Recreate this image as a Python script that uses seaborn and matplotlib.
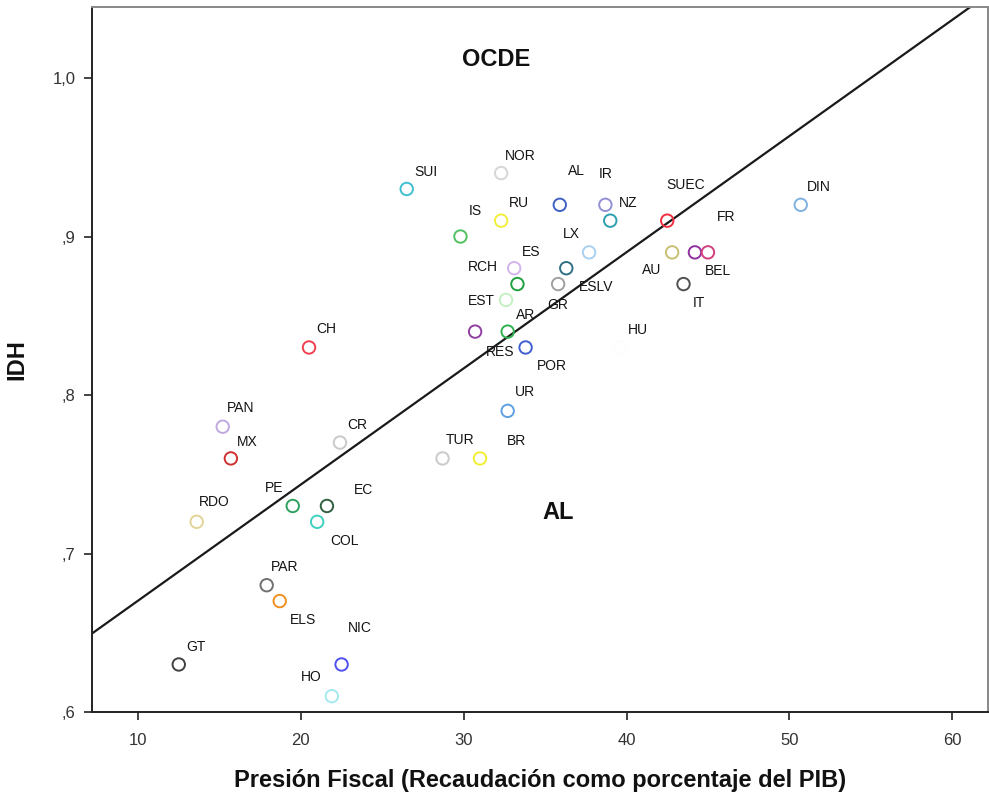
import matplotlib
matplotlib.use("Agg")
import matplotlib.pyplot as plt
import seaborn as sns
import pandas as pd

# Country codes
paises = ["SUI", "NOR", "AL", "IR", "RU", "NZ", "SUEC", "DIN", "IS", "LX",
          "AU", "BEL", "FR", "ES", "ESLV", "RCH", "GR", "IT", "EST", "RES",
          "AR", "POR", "UR", "TUR", "BR", "CH", "PAN", "MX", "CR", "RDO",
          "PE", "EC", "COL", "PAR", "ELS", "GT", "NIC", "HO", "HU"]

# Tax revenue as % of GDP
presion = [26.5, 32.3, 35.9, 38.7, 32.3, 39.0, 42.5, 50.7, 29.8, 37.7,
           42.8, 44.2, 45.0, 33.1, 36.3, 33.3, 35.8, 43.5, 32.6, 30.7,
           32.7, 33.8, 32.7, 28.7, 31.0, 20.5, 15.2, 15.7, 22.4, 13.6,
           19.5, 21.6, 21.0, 17.9, 18.7, 12.5, 22.5, 21.9, 39.6]

# Human development index
idh = [0.93, 0.94, 0.92, 0.92, 0.91, 0.91, 0.91, 0.92, 0.90, 0.89,
       0.89, 0.89, 0.89, 0.88, 0.88, 0.87, 0.87, 0.87, 0.86, 0.84,
       0.84, 0.83, 0.79, 0.76, 0.76, 0.83, 0.78, 0.76, 0.77, 0.72,
       0.73, 0.73, 0.72, 0.68, 0.67, 0.63, 0.63, 0.61, 0.83]

# One colour per country
colores = ["#3fbfd0", "#d6d6d6", "#4060c4", "#9490d4", "#f2ee3c", "#2c9fb0",
           "#f03040", "#80b0e0", "#50c060", "#aad0f0", "#c8c070", "#9030a0",
           "#d04080", "#d4b4ec", "#2f7084", "#20a040", "#a0a0a0", "#505050",
           "#c4f0c4", "#9040a0", "#30b050", "#4060d0", "#60a0e0", "#cacaca",
           "#f2ee30", "#f04050", "#c0a8e0", "#d03030", "#cacaca", "#e2d496",
           "#30a060", "#306040", "#40d0c0", "#707070", "#f09020", "#404040",
           "#5050f0", "#a4e8f0", "#fdfdfd"]

# Where each code sits relative to its marker (pixels, right / down)
desplaz = [(19, -17), (19, -17), (17, -34), (0, -31), (18, -18), (18, -18),
           (18, -36), (18, -18), (15, -26), (-18, -18), (-20, 18), (23, 19),
           (18, -35), (17, -16), (30, 19), (-35, -17), (0, 21), (15, 19),
           (-25, 1), (25, 20), (18, -17), (26, 19), (17, -19), (18, -18),
           (37, -17), (17, -18), (18, -19), (16, -16), (17, -18), (18, -20),
           (-19, -18), (37, -16), (27, 19), (18, -18), (23, 19), (17, -17),
           (18, -36), (-21, -19), (18, -17)]

x_ticks = [10, 20, 30, 40, 50, 60]
y_ticks = [0.6, 0.7, 0.8, 0.9, 1.0]
y_tick_labels = [",6", ",7", ",8", ",9", "1,0"]

df = pd.DataFrame({"pais": paises, "presion": presion, "idh": idh})

sns.set_style("white")
plt.rcParams["font.family"] = ["Liberation Sans", "DejaVu Sans"]

fig = plt.figure(figsize=(9.89, 7.96), dpi=100)
ax = fig.add_axes([0.0930, 0.1055, 0.906, 0.8857])
ax.set_xlim(7.17, 62.2)
ax.set_ylim(0.6, 1.0448)

# Least-squares fit across the full width
sns.regplot(data=df, x="presion", y="idh", scatter=False, ci=None,
            truncate=False, ax=ax, line_kws={"color": "#1a1a1a", "lw": 1.6})

sns.scatterplot(data=df, x="presion", y="idh", hue="pais",
                palette=dict(zip(paises, colores)), legend=False,
                s=80, linewidth=1.4, ax=ax, zorder=3)
coll = ax.collections[-1]
coll.set_edgecolors(coll.get_facecolors())
coll.set_facecolors("none")

for p, xv, yv, (dx, dy) in zip(paises, presion, idh, desplaz):
    ax.annotate(p, (xv, yv), xytext=(dx, -dy), textcoords="offset pixels",
                ha="center", va="center", fontsize=10, color="#141414")

ax.text(32.0, 1.0114, "OCDE", ha="center", va="center",
        fontsize=17, fontweight="bold", color="#111111")
ax.text(35.8, 0.7256, "AL", ha="center", va="center",
        fontsize=17, fontweight="bold", color="#111111")

ax.set_xticks(x_ticks)
ax.set_xticklabels([str(t) for t in x_ticks])
ax.set_yticks(y_ticks)
ax.set_yticklabels(y_tick_labels)
ax.tick_params(axis="both", which="major", direction="out", length=6,
               width=1.2, color="#222222", labelsize=12, labelcolor="#333333",
               bottom=True, left=True, top=False, right=False, pad=6)
ax.tick_params(axis="x", pad=9)

for side, sp in ax.spines.items():
    sp.set_visible(True)
    sp.set_color("#222222" if side in ("left", "bottom") else "#888888")
    sp.set_linewidth(1.4)

ax.set_xlabel("Presión Fiscal (Recaudación como porcentaje del PIB)",
              fontsize=17, fontweight="bold", labelpad=15, color="#111111")
ax.set_ylabel("IDH", fontsize=17, fontweight="bold", color="#111111")
ax.yaxis.set_label_coords(-0.0714, 0.5)

fig.savefig("out.png", dpi=100, facecolor="white")
